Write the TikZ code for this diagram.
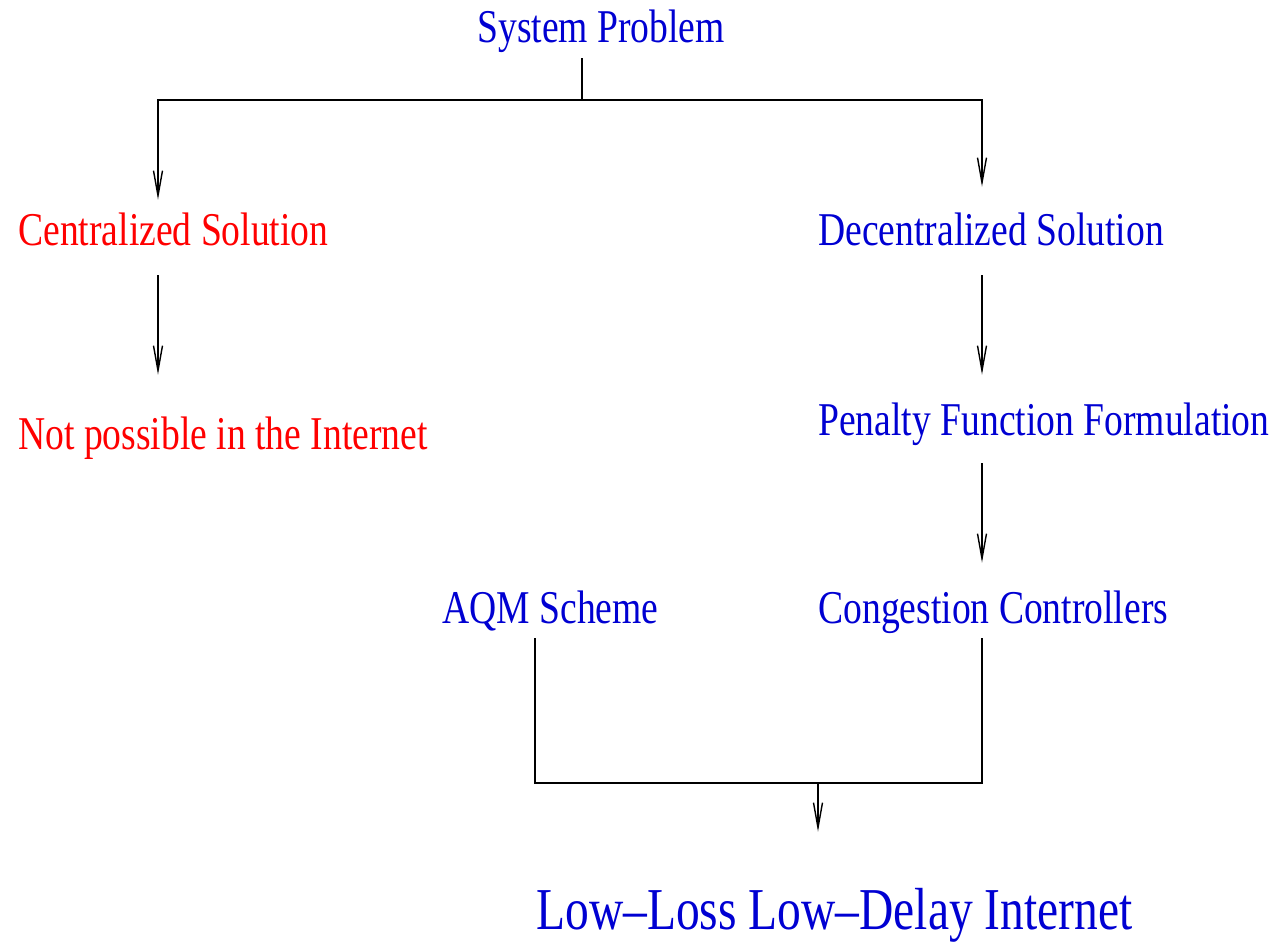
\documentclass[tikz,border=0pt]{standalone}
\usepackage{fontspec}
\setmainfont{Liberation Serif}[FakeStretch=0.8]
\usetikzlibrary{arrows.meta}

\definecolor{figblue}{RGB}{0,0,210}
\newlength\pixel
\setlength\pixel{0.02cm}

\begin{document}
\begin{tikzpicture}[
    x=0.02cm, y=-0.02cm,
    item/.style={inner sep=0, anchor=base west, text height=32\pixel, text depth=10\pixel, font=\fontsize{26.75}{32}\selectfont},
    good/.style={item, text=figblue},
    bad/.style={item, text=red},
    arrow/.style={-{Straight Barb[length=0.5cm, width=0.18cm]}, line width=0.8pt}
]
    \useasboundingbox (0,0) rectangle (1276,941);

    % Nodes
    \node[good] (sys) at (477,42) {System Problem};
    \node[bad] (cent) at (18,245) {Centralized Solution};
    \node[bad] (notp) at (18,449) {Not possible in the Internet};
    \node[good] (dec) at (818,245) {Decentralized Solution};
    \node[good] (pen) at (818,435) {Penalty Function Formulation};
    \node[good] (aqm) at (442,623) {AQM Scheme};
    \node[good] (cong) at (818,623) {Congestion Controllers};
    \node[good, font=\fontsize{33.8}{40}\selectfont] (low) at (536,929) {Low--Loss Low--Delay Internet};

    % Branch and merge points
    \coordinate (split) at (582,100);
    \coordinate (lcol) at (158,100);
    \coordinate (rcol) at (982,100);
    \coordinate (aqmleg) at (535,783);
    \coordinate (congleg) at (982,783);
    \coordinate (join) at (818,783);

    % Connections
    \draw[line width=0.8pt, shorten <=6\pixel] (split |- sys.south) -- (split);
    \draw[arrow, shorten >=13\pixel] (split) -| (lcol |- cent.north);
    \draw[arrow, shorten >=26\pixel] (split) -| (rcol |- dec.north);
    \draw[arrow, shorten <=20\pixel, shorten >=42\pixel] (lcol |- cent.south) -- (lcol |- notp.north);
    \draw[arrow, shorten <=20\pixel, shorten >=28\pixel] (rcol |- dec.south) -- (rcol |- pen.north);
    \draw[arrow, shorten <=18\pixel, shorten >=28\pixel] (rcol |- pen.south) -- (rcol |- cong.north);

    % Merge into the result
    \draw[line width=0.8pt, shorten <=5\pixel, shorten >=5\pixel] (aqmleg |- aqm.south) -- (aqmleg) -- (congleg) -- (congleg |- cong.south);
    \draw[arrow, shorten >=65\pixel] (join) -- (join |- low.north);
\end{tikzpicture}
\end{document}
